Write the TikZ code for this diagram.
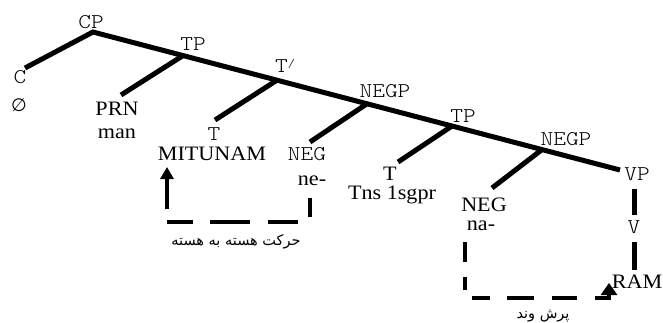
\documentclass[tikz,border=0pt]{standalone}
\usepackage{fontspec}
\setmainfont[FakeStretch=1.08]{Liberation Serif}
\newfontfamily\monof[FakeStretch=1.15]{lmmonolt10-regular.otf}
\newfontfamily\symf{DejaVu Sans}
\newfontfamily\farsi[Script=Arabic]{DejaVu Sans}
\usetikzlibrary{arrows.meta,calc}
\TeXXeTstate=1

\tikzset{
  cat/.style={font=\monof\fontsize{21}{21}\selectfont, inner sep=0pt, anchor=base},
  word/.style={font=\fontsize{20.5}{20.5}\selectfont, inner sep=0pt, anchor=base},
  fa/.style={font=\farsi\fontsize{14.5}{14.5}\selectfont, inner sep=0pt, anchor=base},
  branch/.style={line width=5pt},
  move/.style={line width=4.6pt},
}

\begin{document}
\begin{tikzpicture}[x=1pt, y=-1pt]
\useasboundingbox (0,0) rectangle (663,322);

% spine of the tree and the points where branches leave it
\coordinate (cpj)  at (93,32);
\coordinate (vpj)  at (620,170);
\coordinate (tpj)  at ($(cpj)!0.1708!(vpj)$);
\coordinate (tbj)  at ($(cpj)!0.3491!(vpj)$);
\coordinate (ngj)  at ($(cpj)!0.5199!(vpj)$);
\coordinate (tp2j) at ($(cpj)!0.6812!(vpj)$);
\coordinate (ng2j) at ($(cpj)!0.8520!(vpj)$);

% lower ends of the left branches
\coordinate (ce)   at (25,68);
\coordinate (prne) at (121,95);
\coordinate (te)   at (215,120);
\coordinate (nge)  at (310,142);
\coordinate (t2e)  at (398,162);
\coordinate (ng2e) at (492,188);

% category labels
\node[cat] (cp)   at (91,28)  {CP};
\node[cat] (tp)   at (193,50) {TP};
\node[cat, anchor=base west] (tbar) at (275,72) {T\raisebox{5pt}{\fontsize{12}{12}\selectfont/}};
\node[cat] (negp) at (385,97) {NEGP};
\node[cat] (tp2)  at (463,122) {TP};
\node[cat] (negp2) at (566,145) {NEGP};
\node[cat] (vp)   at (637,180) {VP};
\node[cat] (c)    at (20,83)  {C};
\node[cat] (t)    at (214,140) {T};
\node[cat] (neg)  at (307,160) {NEG};
\node[cat] (v)    at (634,233) {V};

% terminal words
\node[inner sep=0pt, font=\symf\fontsize{18}{18}\selectfont] (null) at (19,105) {∅};
\node[word] (prn)  at (117,115) {PRN};
\node[word] (man)  at (117,138) {man};
\node[word] (mit)  at (212,160) {MITUNAM};
\node[word] (ne)   at (312,185) {ne-};
\node[word] (t2)   at (390,180) {T};
\node[word] (tns)  at (392,199) {Tns 1sgpr};
\node[word] (neg2) at (484,211) {NEG};
\node[word] (na)   at (481,230) {na-};
\node[word] (ram)  at (637,288) {RAM};

% tree branches
\draw[branch] (ce) -- (cpj) -- (vpj);
\draw[branch] (tpj) -- (prne);
\draw[branch] (tbj) -- (te);
\draw[branch] (ngj) -- (nge);
\draw[branch] (tp2j) -- (t2e);
\draw[branch] (ng2j) -- (ng2e);
\coordinate (va) at (634,189);
\coordinate (vb) at (634,215);
\coordinate (vc) at (634,242);
\coordinate (vd) at (634,270);
\draw[branch] (va) -- (vb);
\draw[branch] (vc) -- (vd);

% head-to-head movement: ne- up to MITUNAM
\coordinate (m1a) at (310,198);
\coordinate (m1b) at (310,222);
\coordinate (m1c) at (167,222);
\coordinate (m1d) at (167,167);
\draw[move, dash pattern=on 19pt off 17pt on 30pt off 18pt on 40pt off 17pt on 26pt off 13pt on 90pt,
      -{Triangle[width=13pt,length=12pt]}]
  (m1a) -- (m1b) -- (m1c) -- (m1d);
\node[fa] (hh) at (236,245) {\beginR حرکت هسته به هسته\endR};

% affix hopping: na- over to RAM
\coordinate (m2a) at (465,242);
\coordinate (m2b) at (465,298);
\coordinate (m2c) at (609,298);
\coordinate (m2d) at (609,283);
\draw[move, dash pattern=on 20pt off 15pt on 13pt off 15pt on 18pt off 17pt on 27pt off 18pt on 25pt off 18pt on 60pt,
      -{Triangle[width=16pt,length=12pt]}]
  (m2a) -- (m2b) -- (m2c) -- (m2d);
\node[fa] (ah) at (543,318) {\beginR پرش وند\endR};
\end{tikzpicture}
\end{document}
